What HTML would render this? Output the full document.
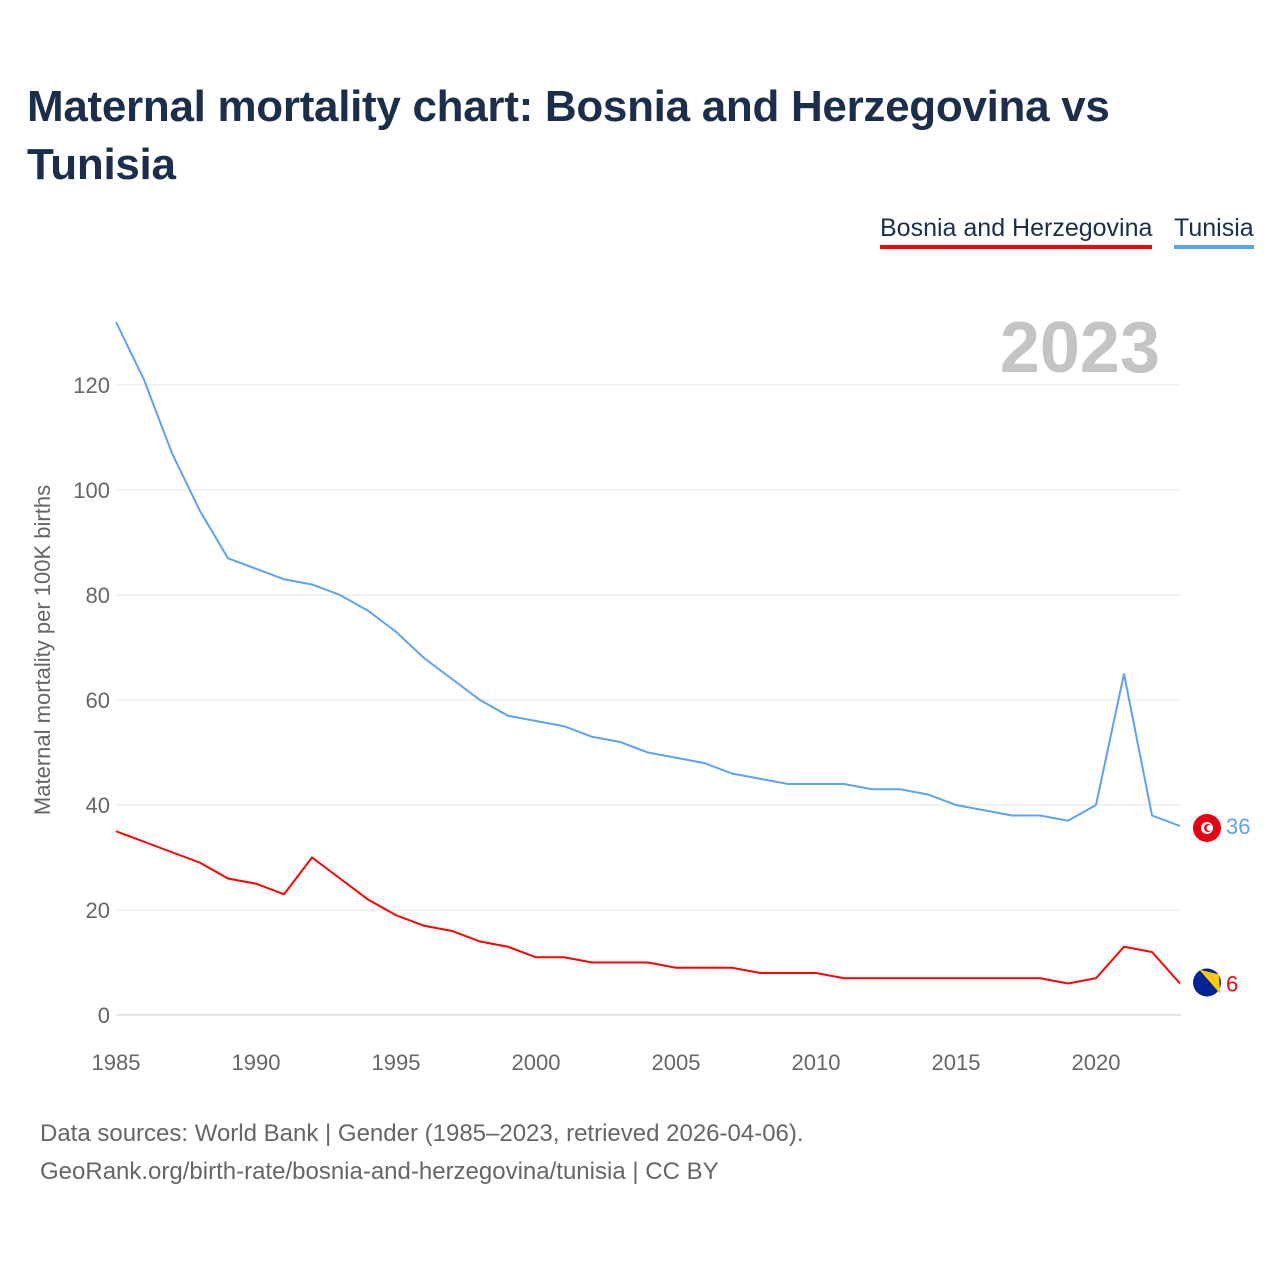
<!DOCTYPE html>
<html><head><meta charset="utf-8">
<style>
body{margin:0;width:1280px;height:1280px;background:#fff;font-family:"Liberation Sans",sans-serif;overflow:hidden}
#title{position:absolute;left:27px;top:78px;width:1200px;font-size:44px;letter-spacing:-0.3px;font-weight:bold;color:#1b2e4c;line-height:58px;margin:0}
.leg{position:absolute;top:214px;font-size:25px;color:#1b2e4c;padding-bottom:2px}
.src{position:absolute;left:40px;font-size:24px;color:#666}
</style></head><body>
<h1 id="title">Maternal mortality chart: Bosnia and Herzegovina vs Tunisia</h1>
<div class="leg" style="left:880px;border-bottom:4px solid #ff0000">Bosnia and Herzegovina</div>
<div class="leg" style="left:1174px;border-bottom:4px solid #5ba4ee">Tunisia</div>
<svg id="chart" width="1280" height="1280" style="position:absolute;left:0;top:0"></svg>
<div class="src" style="top:1120px">Data sources: World Bank | Gender (1985–2023, retrieved 2026-04-06).</div>
<div class="src" style="top:1158px">GeoRank.org/birth-rate/bosnia-and-herzegovina/tunisia | CC BY</div>
<script>
const years=[];for(let y=1985;y<=2023;y++)years.push(y);
const tunisia=[132,121,107,96,87,85,83,82,80,77,73,68,64,60,57,56,55,53,52,50,49,48,46,45,44,44,44,43,43,42,40,39,38,38,37,40,65,38,36];
const bosnia=[35,33,31,29,26,25,23,30,26,22,19,17,16,14,13,11,11,10,10,10,9,9,9,8,8,8,7,7,7,7,7,7,7,7,6,7,13,12,6];
const yTicks=[0,20,40,60,80,100,120];
const xTicks=[1985,1990,1995,2000,2005,2010,2015,2020];
const X=y=>116+(y-1985)*28.0;
const Y=v=>1015-v*5.25;
const svg=document.getElementById('chart');const NS='http://www.w3.org/2000/svg';
function el(t,a,txt){const e=document.createElementNS(NS,t);for(const k in a)e.setAttribute(k,a[k]);if(txt!==undefined)e.textContent=txt;svg.appendChild(e);return e;}
yTicks.forEach(v=>{
 const g=el('line',{x1:116,x2:1181,y1:Y(v),y2:Y(v),stroke:v?'#e6e6e6':'#ccc','stroke-width':1});
 
 
 const t=el('text',{x:110,y:Y(v)+8,'text-anchor':'end','font-size':22,fill:'#666'},v);
 
 
});
xTicks.forEach(v=>{
 const t=el('text',{x:X(v),y:1070,'text-anchor':'middle','font-size':22,fill:'#666'},v);
 
 
});
const yt=el('text',{x:50,y:650,'text-anchor':'middle','font-size':22,fill:'#666',transform:'rotate(-90 50 650)'},'Maternal mortality per 100K births');


const yr=el('text',{x:1160,y:372,'text-anchor':'end','font-size':72,'font-weight':'bold',fill:'#c4c4c4'},'2023');


function line(data,color,name){
 const p=el('polyline',{points:data.map((v,i)=>X(years[i])+','+Y(v)).join(' '),fill:'none',stroke:color,'stroke-width':2});
 
 
 const last=data[data.length-1];
 const t=el('text',{x:1226,y:Y(last)+8,'font-size':22,fill:color},last);
 
 
 return Y(last);
}
const ty=line(tunisia,'#5ba4ee','tunisia');
const by=line(bosnia,'#ff0000','bosnia');
const f1=el('circle',{cx:1207,cy:ty+2,r:14,fill:'#e70013'});


el('circle',{cx:1207,cy:ty+2,r:6,fill:'#fff'});
el('circle',{cx:1208,cy:ty+2,r:4,fill:'#e70013'});
el('circle',{cx:1209.5,cy:ty+2,r:3,fill:'#fff'});
const f2=el('circle',{cx:1207,cy:by-1,r:14,fill:'#002395'});


el('path',{d:`M${1199},${by-14} L${1219},${by-9} L${1220},${by+10} Z`,fill:'#fecb00'});
</script>
</body></html>
